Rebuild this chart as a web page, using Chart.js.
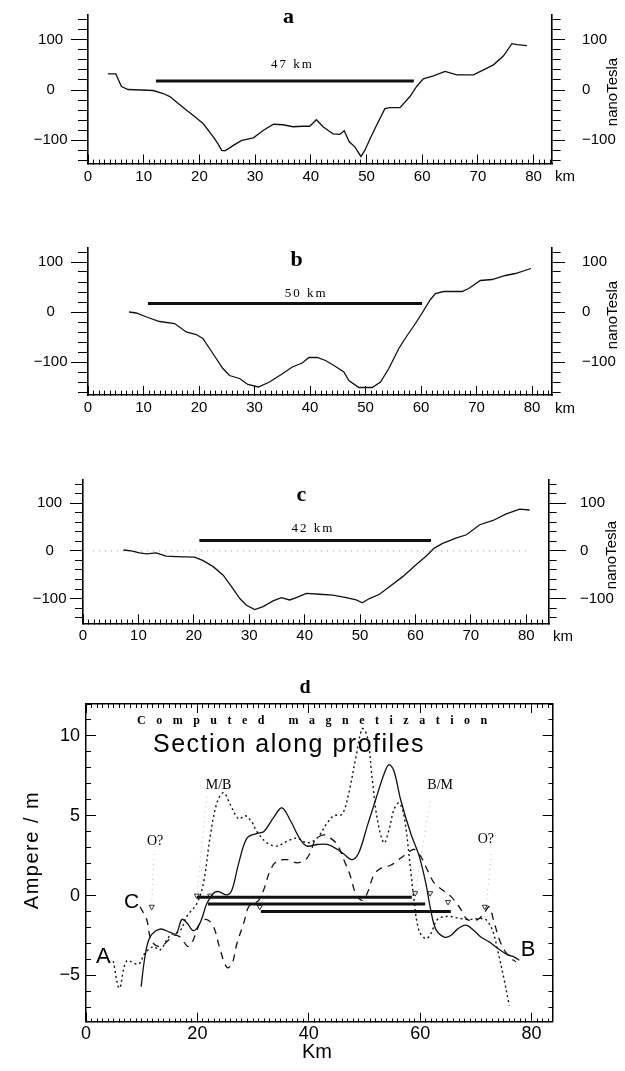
<!DOCTYPE html>
<html>
<head>
<meta charset="utf-8">
<script src="https://cdn.jsdelivr.net/npm/chart.js@4.4.0/dist/chart.umd.min.js"></script>
<style>
  html, body { margin: 0; padding: 0; background: #fff; }
  body { width: 625px; height: 1071px; position: relative; overflow: hidden; }
  canvas { position: absolute; left: 0; }
</style>
</head>
<body>
<canvas id="chartA" width="625" height="200" style="top:0px"></canvas>
<canvas id="chartB" width="625" height="200" style="top:230px"></canvas>
<canvas id="chartC" width="625" height="200" style="top:465px"></canvas>
<canvas id="chartD" width="625" height="391" style="top:680px"></canvas>
<script>
// Profile a (km, nanoTesla)
const kmA = [3.6, 5.0, 6.0, 7.2, 9.5, 11.7, 13.5, 14.7, 16.2, 17.7, 19.2, 20.7, 22.5, 23.4, 24.0, 24.6, 25.3, 26.1, 27.6, 29.7, 31.5, 33.3, 35.0, 36.8, 38.5, 39.8, 41.0, 42.2, 43.2, 44.0, 45.2, 46.0, 46.9, 47.9, 49.0, 49.7, 50.6, 51.5, 53.3, 54.2, 56.0, 57.8, 59.0, 60.2, 62.0, 64.1, 66.2, 69.2, 71.0, 72.8, 74.6, 76.1, 77.0, 78.8];
const ntA = [32, 32, 7, 1, 0, -1, -7, -13, -27, -40, -53, -67, -93, -108, -120, -121, -116, -110, -100, -95, -80, -68, -69, -73, -72, -72, -59, -73, -81, -87, -88, -81, -103, -113, -132, -120, -98, -77, -37, -35, -35, -13, 7, 22, 28, 37, 30, 30, 40, 50, 68, 92, 90, 88];
const barA = [12.2, 58.5];
const barALevel = 18;

// Profile b
const kmB = [7.4, 8.7, 10.8, 12.9, 15.6, 17.7, 19.5, 20.7, 22.5, 24.3, 25.5, 27.3, 28.8, 30.7, 32.7, 35.1, 36.8, 38.6, 39.8, 41.3, 42.8, 44.6, 46.1, 47.0, 48.8, 51.2, 52.7, 54.2, 56.0, 57.5, 59.0, 60.2, 61.7, 62.6, 64.1, 67.4, 68.6, 70.7, 72.8, 75.2, 77.0, 79.8];
const ntB = [0, -2, -11, -19, -23, -40, -45, -53, -83, -113, -127, -133, -145, -150, -140, -123, -110, -102, -91, -91, -97, -109, -120, -137, -151, -151, -140, -113, -73, -47, -23, -2, 25, 37, 41, 41, 47, 63, 65, 73, 77, 87];
const barB = [10.8, 60.2];
const barBLevel = 17;

// Profile c
const kmC = [7.3, 8.7, 10.2, 11.5, 13.2, 15.0, 16.8, 20.1, 21.6, 23.5, 25.3, 26.8, 28.3, 29.5, 31.0, 32.5, 34.3, 35.8, 37.3, 38.5, 40.3, 42.7, 45.1, 47.5, 49.3, 50.4, 51.7, 53.5, 55.3, 57.7, 60.1, 61.9, 63.4, 64.9, 67.3, 69.2, 71.6, 74.0, 76.4, 78.8, 80.6];
const ntC = [2, 0, -4, -6, -4, -11, -12, -13, -20, -33, -51, -75, -100, -114, -123, -117, -105, -98, -103, -98, -89, -91, -93, -98, -103, -109, -100, -91, -75, -54, -29, -11, 6, 16, 27, 34, 55, 64, 78, 88, 86];
const barC = [21.0, 62.8];
const barCLevel = 22;
const zeroLineC = [1.8, 80.6];

// Section d (km, Ampere / m)
const kmSolid = [9.9, 10.6, 11.5, 13.3, 15.1, 16.2, 17.2, 18.1, 19.3, 20.5, 21.7, 22.9, 23.8, 25.3, 26.2, 27.4, 28.9, 30.7, 31.9, 33.7, 35.2, 36.7, 38.5, 39.7, 41.5, 43.3, 45.1, 46.3, 47.8, 49.0, 50.5, 52.0, 53.5, 54.4, 55.3, 56.5, 58.3, 59.8, 61.0, 61.9, 62.8, 64.3, 65.5, 66.7, 68.2, 69.7, 70.9, 72.4, 73.9, 75.7, 76.9, 77.8];
const ampSolid = [-5.7, -3.8, -2.6, -2.1, -2.3, -2.4, -1.5, -1.7, -2.2, -1.7, -0.5, 0.15, 0.25, 0.04, 0.35, 2.0, 3.6, 3.9, 4.0, 4.9, 5.5, 4.7, 3.5, 3.1, 3.2, 3.2, 2.9, 2.6, 2.25, 2.7, 4.35, 6.0, 7.6, 8.2, 7.8, 6.0, 3.9, 2.5, 0.8, -0.9, -2.1, -2.6, -2.5, -2.1, -1.85, -2.2, -2.6, -2.9, -3.3, -3.7, -3.85, -4.05];
const kmDotted = [4.9, 6.0, 7.3, 9.4, 10.6, 12.1, 13.3, 15.1, 16.9, 18.1, 19.9, 21.1, 22.3, 23.5, 24.7, 25.9, 27.4, 28.6, 29.8, 30.7, 32.5, 34.3, 36.1, 37.9, 39.7, 41.5, 43.3, 44.5, 46.0, 47.2, 48.4, 49.6, 50.5, 51.4, 52.3, 53.5, 54.4, 55.3, 56.2, 57.1, 58.3, 58.9, 59.8, 61.0, 61.9, 63.1, 64.9, 66.7, 68.5, 70.3, 71.8, 73.0, 73.9, 75.1, 76.0];
const ampDotted = [-4.1, -5.8, -4.1, -4.3, -3.6, -3.2, -3.4, -2.5, -2.2, -1.3, -0.5, 0.8, 3.7, 5.8, 6.45, 5.7, 4.8, 5.0, 4.6, 4.0, 3.3, 3.1, 3.4, 3.6, 3.3, 3.6, 4.55, 5.0, 5.1, 6.45, 8.55, 10.45, 10.0, 7.3, 4.8, 3.3, 4.1, 5.4, 5.8, 5.0, 1.6, -0.3, -2.2, -2.7, -2.4, -1.5, -1.3, -1.4, -1.5, -1.45, -1.5, -2.2, -3.4, -5.3, -6.9];
const kmDashed = [9.7, 10.9, 11.5, 12.1, 13.3, 14.5, 15.7, 16.9, 18.4, 19.6, 20.5, 21.7, 22.9, 24.1, 25.3, 26.2, 27.1, 28.3, 29.2, 30.1, 31.0, 31.9, 33.1, 34.3, 36.1, 37.9, 39.4, 40.3, 41.2, 42.7, 43.9, 45.1, 46.3, 47.5, 48.4, 49.6, 50.5, 51.7, 52.9, 54.7, 56.5, 57.7, 58.9, 60.1, 61.3, 62.5, 64.0, 65.5, 67.0, 68.5, 70.3, 71.5, 72.4, 73.3, 74.5, 76.0, 77.2];
const ampDashed = [-0.7, -1.5, -2.6, -3.0, -3.2, -2.9, -2.5, -2.6, -3.2, -2.5, -1.7, -1.5, -1.95, -3.4, -4.5, -4.3, -3.0, -1.75, -0.7, -0.5, -0.3, 0.35, 1.6, 2.15, 2.25, 2.05, 2.25, 2.7, 3.5, 3.8, 3.6, 3.2, 2.25, 1.2, 0.15, -0.3, 0.15, 1.3, 1.7, 1.9, 2.35, 2.65, 2.9, 2.45, 1.6, 0.8, 0.35, -0.05, -0.7, -1.5, -1.5, -1.1, -0.7, -1.7, -3.0, -3.85, -4.15];

// widths shown as thick bars in d
const sectionBars = [[19.9, 58.5], [21.9, 60.9], [31.4, 65.5]];
const sectionBarLevels = [-0.1, -0.53, -1.0];

// faint pointer lines and their arrow tips
const pointerKm = [[21.7, 19.9], [61.8, 59.1], [12.2, 11.8], [72.8, 71.9]];
const pointerAmp = [[6.2, 0.0], [5.9, 0.2], [2.6, -0.5], [2.6, -0.5]];
const arrowKm = [11.8, 19.9, 22.3, 31.2, 59.1, 61.8, 65.0, 71.6];
const arrowAmp = [-0.7, 0.0, 0.0, -0.7, 0.15, 0.15, -0.4, -0.7];

const tickFont = { family: "'Liberation Sans', Arial, sans-serif", size: 15 };
const tickFontD = { family: "'Liberation Sans', Arial, sans-serif", size: 18 };
const fmt = v => v < 0 ? '\u2212' + Math.abs(v) : String(v);
const pts = (xs, ys) => xs.map((x, i) => ({ x, y: ys[i] }));
const flat = (xs, y) => xs.map(x => ({ x, y }));

// keep the scale from pushing the plot area around with its label overhang
function noOverhang(s) {
  s.paddingTop = 0;
  s.paddingBottom = 0;
  s.paddingLeft = 0;
  s.paddingRight = 0;
}

// text drawn on top of a chart, in data or pixel coordinates
function textLayer(items) {
  return {
    id: 'textLayer',
    afterDraw(chart) {
      const ctx = chart.ctx;
      const xs = chart.scales.x, ys = chart.scales.y;
      items.forEach(t => {
        const px = t.px !== undefined ? t.px : xs.getPixelForValue(t.x);
        const py = t.py !== undefined ? t.py : ys.getPixelForValue(t.y);
        ctx.save();
        ctx.font = t.font;
        ctx.fillStyle = t.color || '#000';
        ctx.textAlign = t.align || 'center';
        ctx.textBaseline = 'middle';
        if (t.spacing) ctx.letterSpacing = t.spacing;
        ctx.translate(px, py);
        if (t.rotate) ctx.rotate(t.rotate);
        ctx.fillText(t.text, 0, 0);
        ctx.restore();
      });
    }
  };
}

const isMajor = (ctx, step) => ctx.tick && Math.abs(ctx.tick.value % step) < 1e-6;

function profileChart(id, km, nt, bar, barLevel, f, texts, zero) {
  const canvas = document.getElementById(id);
  const datasets = [
    { data: pts(km, nt), borderColor: '#111', borderWidth: 1.3, pointRadius: 0, tension: 0 },
    { data: flat(bar, barLevel), borderColor: '#111', borderWidth: 3, pointRadius: 0 }
  ];
  if (zero) {
    datasets.push({ data: flat(zero, 0), borderColor: '#999', borderWidth: 1, borderDash: [1, 5], pointRadius: 0 });
  }
  return new Chart(canvas, {
    type: 'line',
    data: { datasets },
    options: {
      responsive: false,
      animation: false,
      devicePixelRatio: 1,
      events: [],
      layout: { padding: { top: f.top, left: 0, right: 0, bottom: 0 } },
      plugins: { legend: { display: false }, tooltip: { enabled: false } },
      scales: {
        x: {
          type: 'linear', position: 'bottom', min: 0, max: f.xMax,
          border: { color: '#000', width: 1.6 },
          grid: {
            drawOnChartArea: false, tickLength: -9, tickColor: '#000', tickWidth: 1,
            tickBorderDash: ctx => isMajor(ctx, 10) ? [] : [5, 100]
          },
          ticks: {
            stepSize: 1, autoSkip: false, includeBounds: false, maxRotation: 0, padding: 13,
            font: tickFont, color: '#000', callback: v => v % 10 === 0 ? String(v) : ''
          },
          afterFit: s => { s.height = canvas.height - f.bottom; noOverhang(s); }
        },
        y: {
          type: 'linear', position: 'left', min: f.yMin, max: f.yMax,
          border: { color: '#000', width: 1.6 },
          grid: {
            drawOnChartArea: false, tickLength: f.lMaj, tickColor: '#000', tickWidth: 1,
            tickBorderDash: ctx => isMajor(ctx, 100) ? [] : [0, f.lMaj - f.lMin, f.lMin, 100]
          },
          ticks: {
            stepSize: 20, autoSkip: false, includeBounds: false, crossAlign: 'center', padding: f.lPad,
            font: tickFont, color: '#000', callback: v => v % 100 === 0 ? fmt(v) : ''
          },
          afterFit: s => { s.width = f.left; noOverhang(s); }
        },
        y2: {
          type: 'linear', position: 'right', min: f.yMin, max: f.yMax,
          border: { color: '#000', width: 1.6 },
          grid: {
            drawOnChartArea: false, tickLength: f.rMaj, tickColor: '#000', tickWidth: 1,
            tickBorderDash: ctx => isMajor(ctx, 100) ? [] : [f.rMin, 100]
          },
          ticks: {
            stepSize: 20, autoSkip: false, includeBounds: false, padding: f.rPad,
            font: tickFont, color: '#000', callback: v => v % 100 === 0 ? fmt(v) : ''
          },
          afterFit: s => { s.width = canvas.width - f.right; noOverhang(s); }
        }
      }
    },
    plugins: [textLayer(texts)]
  });
}

const serifBold = "bold 22px 'Liberation Serif', 'Times New Roman', serif";
const serifSmall = "13px 'Liberation Serif', 'Times New Roman', serif";
const sans = size => size + "px 'Liberation Sans', Arial, sans-serif";

profileChart('chartA', kmA, ntA, barA, barALevel,
  { left: 88, right: 552, top: 15, bottom: 163.5, xMax: 83.3, yMin: -146, yMax: 149,
    lMaj: 17, lMin: 10, lPad: 3.5, rMaj: 13, rMin: 8, rPad: 17 },
  [
    { text: 'a', x: 36, py: 17, font: serifBold },
    { text: '47 km', x: 36.7, y: 50, font: serifSmall, spacing: '2px' },
    { text: 'nanoTesla', px: 613, py: 92, rotate: -Math.PI / 2, font: sans(15) },
    { text: 'km', px: 565, py: 177, font: sans(15) }
  ]);

profileChart('chartB', kmB, ntB, barB, barBLevel,
  { left: 88, right: 552, top: 18, bottom: 165, xMax: 83.6, yMin: -166, yMax: 128,
    lMaj: 17, lMin: 10, lPad: 3.5, rMaj: 13, rMin: 8, rPad: 17 },
  [
    { text: 'b', x: 37.6, py: 30, font: serifBold },
    { text: '50 km', x: 39.3, y: 37, font: serifSmall, spacing: '2px' },
    { text: 'nanoTesla', px: 613, py: 85, rotate: -Math.PI / 2, font: sans(15) },
    { text: 'km', px: 565, py: 179, font: sans(15) }
  ]);

profileChart('chartC', kmC, ntC, barC, barCLevel,
  { left: 83, right: 549, top: 15, bottom: 158.3, xMax: 84.1, yMin: -152, yMax: 149,
    lMaj: 13, lMin: 8, lPad: 3.5, rMaj: 17, rMin: 7, rPad: 14 },
  [
    { text: 'c', x: 39.4, py: 30, font: serifBold },
    { text: '42 km', x: 41.5, y: 46, font: serifSmall, spacing: '2px' },
    { text: 'nanoTesla', px: 612, py: 90, rotate: -Math.PI / 2, font: sans(15) },
    { text: 'km', px: 563, py: 172, font: sans(15) }
  ], zeroLineC);

// Section d
(function () {
  const canvas = document.getElementById('chartD');
  const f = { left: 86, right: 552.7, top: 24, bottom: 341.7 };
  const datasets = [
    { data: pts(kmSolid, ampSolid), borderColor: '#111', borderWidth: 1.3, pointRadius: 0, tension: 0.35 },
    { data: pts(kmDotted, ampDotted), borderColor: '#111', borderWidth: 1.4, borderDash: [2, 3], pointRadius: 0, tension: 0.35 },
    { data: pts(kmDashed, ampDashed), borderColor: '#111', borderWidth: 1.3, borderDash: [7, 6], pointRadius: 0, tension: 0.35 }
  ];
  sectionBars.forEach((b, i) => {
    datasets.push({ data: flat(b, sectionBarLevels[i]), borderColor: '#111', borderWidth: 3, pointRadius: 0 });
  });
  pointerKm.forEach((xs, i) => {
    datasets.push({ data: pts(xs, pointerAmp[i]), borderColor: '#bbb', borderWidth: 1, borderDash: [1, 4], pointRadius: 0 });
  });
  datasets.push({
    data: pts(arrowKm, arrowAmp), showLine: false, pointStyle: 'triangle', rotation: 180,
    pointRadius: 3, pointBorderWidth: 1, pointBorderColor: '#333', pointBackgroundColor: 'rgba(0,0,0,0)'
  });

  const axisX = (pos, labels) => ({
    type: 'linear', position: pos, min: 0, max: 83.8,
    border: { color: '#000', width: 1.5 },
    grid: {
      drawOnChartArea: false, tickLength: -9, tickColor: '#000', tickWidth: 1,
      tickBorderDash: ctx => isMajor(ctx, 20) ? [] : (pos === 'bottom' ? [4, 100] : [0, 5, 4, 100])
    },
    ticks: {
      stepSize: 1, autoSkip: false, includeBounds: false, maxRotation: 0, padding: 10.5,
      font: tickFontD, color: '#000', callback: v => labels && v % 20 === 0 ? String(v) : ''
    },
    afterFit: s => { s.height = pos === 'bottom' ? canvas.height - f.bottom : f.top; noOverhang(s); }
  });
  const axisY = (pos, labels) => ({
    type: 'linear', position: pos, min: -7.9, max: 12,
    border: { color: '#000', width: 1.5 },
    grid: {
      drawOnChartArea: false, tickLength: -10, tickColor: '#000', tickWidth: 1,
      tickBorderDash: ctx => isMajor(ctx, 5) ? [] : (pos === 'left' ? [0, 5, 5, 100] : [5, 100])
    },
    ticks: {
      stepSize: 1, autoSkip: false, includeBounds: false, padding: 16,
      font: tickFontD, color: '#000', callback: v => labels && v % 5 === 0 ? fmt(v) : ''
    },
    afterFit: s => { s.width = pos === 'left' ? f.left : canvas.width - f.right; noOverhang(s); }
  });

  new Chart(canvas, {
    type: 'line',
    data: { datasets },
    options: {
      responsive: false,
      animation: false,
      devicePixelRatio: 1,
      events: [],
      layout: { padding: 0 },
      plugins: { legend: { display: false }, tooltip: { enabled: false } },
      scales: {
        x: axisX('bottom', true),
        x2: axisX('top', false),
        y: axisY('left', true),
        y2: axisY('right', false)
      }
    },
    plugins: [textLayer([
      { text: 'd', px: 305, py: 8, font: "bold 20px 'Liberation Serif', serif" },
      { text: 'Computed magnetization', px: 137, py: 41, align: 'left', spacing: '10.5px',
        font: "bold 12px 'Liberation Serif', serif" },
      { text: 'Section along profiles', px: 153, py: 65, align: 'left', spacing: '1.5px', font: sans(25) },
      { text: 'M/B', x: 23.8, y: 6.9, font: "14px 'Liberation Serif', serif" },
      { text: 'B/M', x: 63.6, y: 6.9, font: "14px 'Liberation Serif', serif" },
      { text: 'O?', x: 12.4, y: 3.4, font: "14px 'Liberation Serif', serif" },
      { text: 'O?', x: 71.8, y: 3.5, font: "14px 'Liberation Serif', serif" },
      { text: 'A', x: 3.1, y: -3.85, font: sans(22) },
      { text: 'B', x: 79.4, y: -3.4, font: sans(22) },
      { text: 'C', x: 8.2, y: -0.4, font: sans(21) },
      { text: 'Ampere / m', px: 32, py: 170, rotate: -Math.PI / 2, spacing: '1.5px', font: sans(20) },
      { text: 'Km', px: 317, py: 372, font: sans(20) }
    ])]
  });
})();
</script>
</body>
</html>
